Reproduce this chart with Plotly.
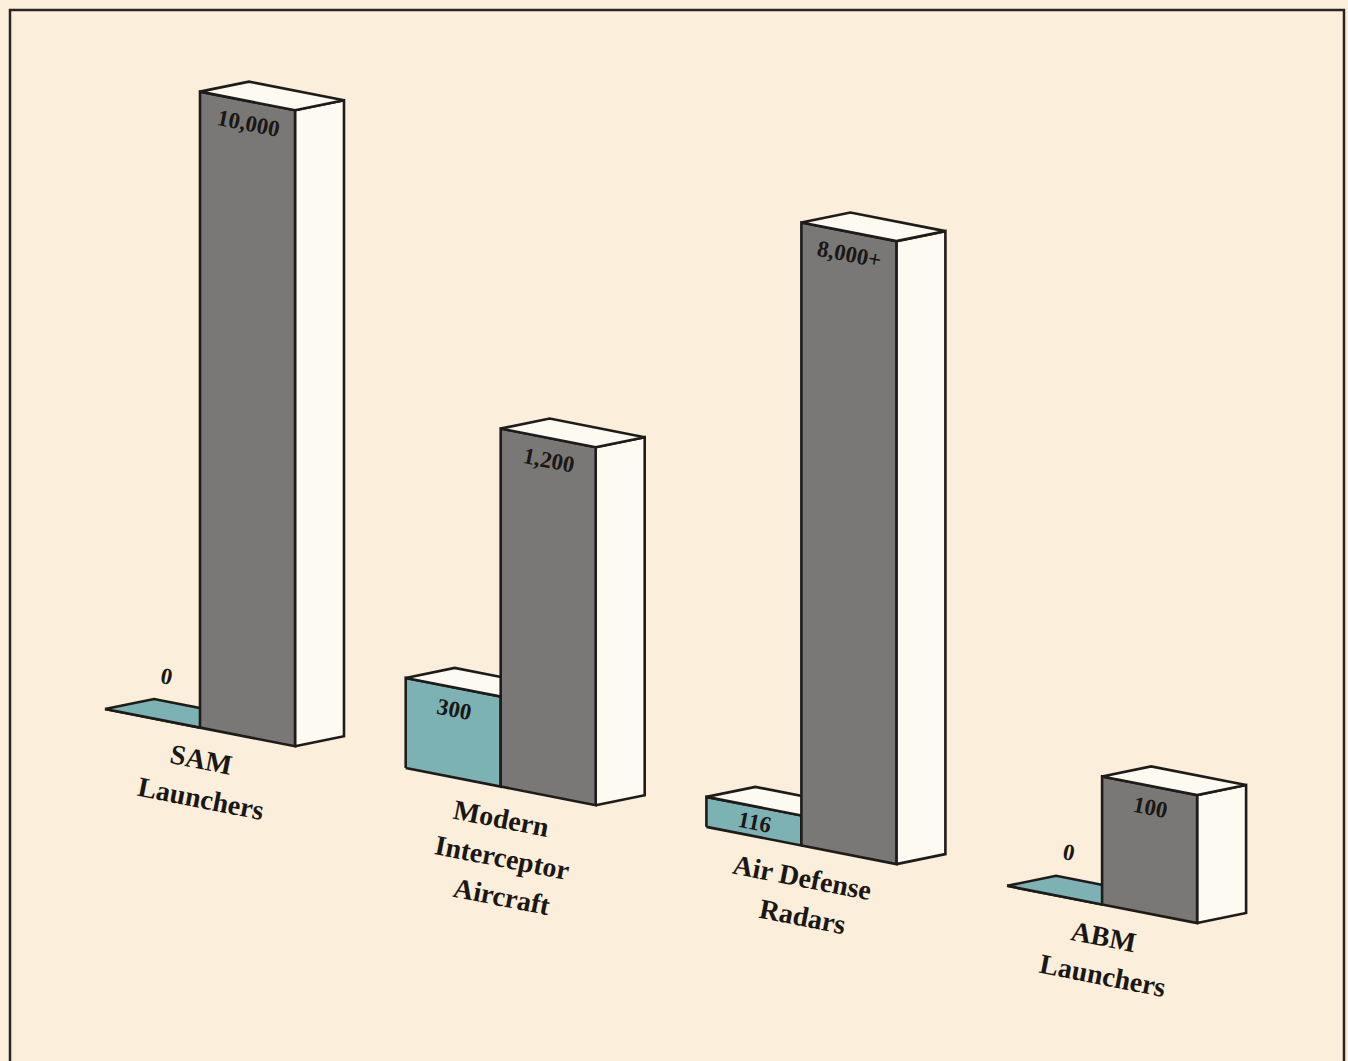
import math
import plotly.graph_objects as go

# ---------------- data ----------------
categories = ["SAM<br>Launchers", "Modern<br>Interceptor<br>Aircraft",
              "Air Defense<br>Radars", "ABM<br>Launchers"]
us_values = [0, 300, 116, 0]
ussr_values = [10000, 1200, 8000, 100]
us_labels = ["0", "300", "116", "0"]
ussr_labels = ["10,000", "1,200", "8,000+", "100"]
# the artwork is pictorial (not to scale): bar heights as drawn, in chart units
us_drawn_height = [0, 90, 30, 0]
ussr_drawn_height = [636, 358, 623, 128]

# ---------------- layout / projection constants ----------------
W, H = 1348, 1061
ORIGIN_X, ORIGIN_Y = 105, 709      # front-bottom-left of first group
SLOPE = 0.196                       # tilt of the baseline
GROUP_STEP = 300.7
BAR_W = 95
DEPTH = (49, -10)                   # screen offset of full bar depth
ANGLE = math.degrees(math.atan(SLOPE))

BG = "#FBEFDB"
TEAL = "#7DB2B4"
GRAY = "#7A7877"
FACE = "#FDFAF1"
EDGE = "#1E1B1A"
TXT = "#1A1715"
FONT = "Liberation Serif"


def proj(x, d, h):
    sx = ORIGIN_X + x + d * DEPTH[0]
    sy = ORIGIN_Y + SLOPE * x + d * DEPTH[1] - h
    return sx, sy


fig = go.Figure()


def poly(pts, color):
    xs, ys = zip(*[proj(*p) for p in pts])
    xs = list(xs) + [xs[0]]
    ys = list(ys) + [ys[0]]
    fig.add_trace(go.Scatter(x=xs, y=ys, mode="lines", fill="toself",
                             fillcolor=color,
                             line=dict(color=EDGE, width=2.6),
                             hoverinfo="skip", showlegend=False))


def box(x0, x1, h, front_color):
    top_color = FACE if h > 0 else front_color
    poly([(x1, 0, 0), (x1, 1, 0), (x1, 1, h), (x1, 0, h)], FACE)       # side
    poly([(x0, 0, 0), (x1, 0, 0), (x1, 0, h), (x0, 0, h)], front_color)  # front
    poly([(x0, 0, h), (x1, 0, h), (x1, 1, h), (x0, 1, h)], top_color)    # top


annotations = []
for i, cat in enumerate(categories):
    gx = i * GROUP_STEP
    us_h = us_drawn_height[i]
    ussr_h = ussr_drawn_height[i]
    box(gx, gx + BAR_W, us_h, TEAL)
    box(gx + BAR_W, gx + 2 * BAR_W, ussr_h, GRAY)

    # value labels
    for x0, h, lab in [(gx, us_h, us_labels[i]), (gx + BAR_W, ussr_h, ussr_labels[i])]:
        if h > 0:
            cx = x0 + BAR_W / 2 + 1
            sx, sy = proj(cx, 0, h)
            sy += min(22, h / 2 + 1)
        else:
            sx, sy = proj(x0 + 62, 0, 45)
        annotations.append(dict(x=sx, y=sy, text="<b>" + lab + "</b>",
                                showarrow=False, textangle=ANGLE,
                                xanchor="center", yanchor="middle",
                                font=dict(family=FONT, size=23, color=TXT)))

    # category label, one annotation per line
    bx, by = proj(gx + BAR_W, 0, 0)
    for k, line in enumerate(cat.split("<br>")):
        annotations.append(dict(x=bx + 1, y=by + 32 + 39 * k,
                                text="<b>" + line + "</b>",
                                showarrow=False, textangle=ANGLE,
                                xanchor="center", yanchor="middle",
                                font=dict(family=FONT, size=28, color=TXT)))

fig.update_layout(
    width=W, height=H,
    margin=dict(l=0, r=0, t=0, b=0),
    paper_bgcolor=BG, plot_bgcolor=BG,
    xaxis=dict(range=[0, W], visible=False, fixedrange=True),
    yaxis=dict(range=[H, 0], visible=False, fixedrange=True),
    annotations=annotations,
    shapes=[dict(type="rect", xref="x", yref="y", x0=10, x1=1344, y0=10, y1=1080,
                 line=dict(color="#2A2524", width=2.5), layer="above")],
    showlegend=False,
)

fig.write_html("out.html")
